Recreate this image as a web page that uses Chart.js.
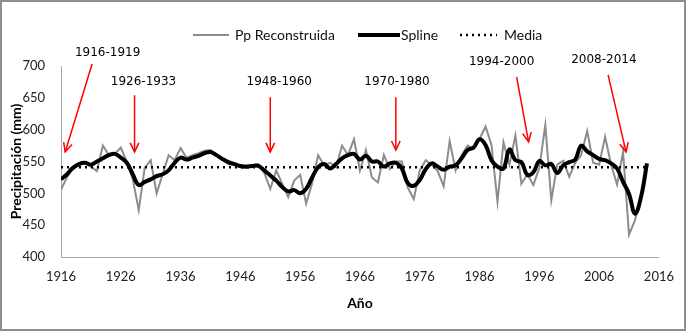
<!DOCTYPE html>
<html>
<head>
<meta charset="utf-8">
<script src="https://cdn.jsdelivr.net/npm/chart.js@4.4.1/dist/chart.umd.min.js"></script>
<style>html,body{margin:0;padding:0;background:#fff}canvas{display:block}</style>
</head>
<body>
<canvas id="c" width="686" height="331"></canvas>
<script>
// ---- Data ----
const years = [1916,1917,1918,1919,1920,1921,1922,1923,1924,1925,1926,1927,1928,1929,1930,1931,1932,1933,1934,1935,
1936,1937,1938,1939,1940,1941,1942,1943,1944,1945,1946,1947,1948,1949,1950,1951,1952,1953,1954,1955,
1956,1957,1958,1959,1960,1961,1962,1963,1964,1965,1966,1967,1968,1969,1970,1971,1972,1973,1974,1975,
1976,1977,1978,1979,1980,1981,1982,1983,1984,1985,1986,1987,1988,1989,1990,1991,1992,1993,1994,1995,
1996,1997,1998,1999,2000,2001,2002,2003,2004,2005,2006,2007,2008,2009,2010,2011,2012,2013,2014];

const ppReconstruida = [506,525,540,545,548,542,535,575,560,562,572,550,522,474,540,552,500,530,560,552,
571,556,560,563,567,568,560,552,546,544,541,540,544,546,532,507,536,515,494,520,
529,484,516,560,544,548,541,575,560,585,536,568,525,517,560,538,550,550,509,491,
536,552,545,535,511,582,536,560,575,570,585,605,576,487,580,545,591,515,530,513,
540,607,489,545,551,526,548,560,598,548,545,589,545,514,565,435,458,495,545];

const spline = [522,530,540,546,548,545,550,555,560,562,556,548,530,513,518,522,527,530,536,548,
556,553,556,559,563,565,560,554,549,546,543,542,543,543,536,528,520,510,503,505,
500,507,525,541,546,539,546,555,560,562,553,559,550,550,542,547,548,539,516,512,
521,538,547,542,537,542,544,555,568,572,585,576,552,542,539,569,552,549,529,533,
551,544,546,532,544,549,553,575,566,560,554,552,547,539,518,499,468,494,547];

const media = 541;

const xTickValues = [1916,1926,1936,1946,1956,1966,1976,1986,1996,2006,2016];
const yTickValues = [400,450,500,550,600,650,700];

// annotations (data space)
const annotLabels = ['1916-1919','1926-1933','1948-1960','1970-1980','1994-2000','2008-2014'];
const annotText   = [[1923.8,720],[1929.8,675],[1952.5,675],[1972.2,675],[1989.7,706],[2006.8,709]];
const annotFrom   = [[1921.2,703],[1928.3,654],[1951.0,651],[1972.0,651],[1992.2,683],[2007.5,686]];
const annotTo     = [[1916.7,565],[1928.3,565],[1951.0,565],[1972.0,568],[1994.2,581],[2010.5,565]];

// ---- Plugins ----
const frame = {
  id:'frame',
  afterDraw(chart){
    const c = chart.ctx;
    c.save();
    c.strokeStyle = '#8e8e8e';
    c.lineWidth = 2;
    c.strokeRect(1,1,chart.width-2,chart.height-2);
    c.restore();
  }
};

const legendItems = [
  {ds:0, x1:193, x2:229, tx:235},
  {ds:1, x1:358, x2:400, tx:401},
  {ds:2, x1:460, x2:497, tx:504}
];
const customLegend = {
  id:'customLegend',
  afterDraw(chart){
    const c = chart.ctx, y = 35;
    c.save();
    legendItems.forEach(it=>{
      const ds = chart.data.datasets[it.ds];
      c.beginPath();
      c.strokeStyle = ds.borderColor;
      c.lineWidth = ds.borderWidth;
      c.setLineDash(ds.borderDash || []);
      c.moveTo(it.x1,y); c.lineTo(it.x2,y); c.stroke();
      c.setLineDash([]);
      c.fillStyle = '#111';
      c.font = '14px Lato';
      c.textBaseline = 'middle';
      c.textAlign = 'left';
      c.fillText(ds.label, it.tx, y);
    });
    c.restore();
  }
};

const annotations = {
  id:'annotations',
  afterDatasetsDraw(chart){
    const c = chart.ctx, xs = chart.scales.x, ys = chart.scales.y;
    c.save();
    annotLabels.forEach((t,i)=>{
      const tx = xs.getPixelForValue(annotText[i][0]), ty = ys.getPixelForValue(annotText[i][1]);
      c.fillStyle = '#000';
      c.font = '12px "DejaVu Sans"';
      c.textAlign = 'center';
      c.textBaseline = 'middle';
      c.fillText(t, tx, ty);
      const x1 = xs.getPixelForValue(annotFrom[i][0]), y1 = ys.getPixelForValue(annotFrom[i][1]);
      const x2 = xs.getPixelForValue(annotTo[i][0]), y2 = ys.getPixelForValue(annotTo[i][1]);
      c.strokeStyle = '#ff0000';
      c.lineWidth = 1.5;
      c.beginPath(); c.moveTo(x1,y1); c.lineTo(x2,y2); c.stroke();
      const a = Math.atan2(y2-y1, x2-x1), L = 10, w = 0.45;
      c.beginPath();
      c.moveTo(x2 - L*Math.cos(a-w), y2 - L*Math.sin(a-w));
      c.lineTo(x2,y2);
      c.lineTo(x2 - L*Math.cos(a+w), y2 - L*Math.sin(a+w));
      c.stroke();
    });
    c.restore();
  }
};

// ---- Chart ----
new Chart(document.getElementById('c'), {
  type:'line',
  data:{
    datasets:[
      {label:'Pp Reconstruida', data: years.map((yr,i)=>({x:yr,y:ppReconstruida[i]})),
       borderColor:'#8c8c8c', borderWidth:2, pointRadius:0, tension:0, order:3},
      {label:'Spline', data: years.map((yr,i)=>({x:yr,y:spline[i]})),
       borderColor:'#000000', borderWidth:4, pointRadius:0, tension:0.4, order:1},
      {label:'Media', data: [{x:years[0],y:media},{x:years[years.length-1],y:media}],
       borderColor:'#000000', borderWidth:2.5, borderDash:[2,4], pointRadius:0, order:2}
    ]
  },
  options:{
    responsive:false, animation:false, devicePixelRatio:1,
    layout:{padding:{left:0,right:25,top:66,bottom:0}},
    plugins:{legend:{display:false}, tooltip:{enabled:false}},
    scales:{
      x:{
        type:'linear', min:1916, max:2016,
        afterBuildTicks(s){ s.ticks = xTickValues.map(v=>({value:v})); },
        afterFit(s){ s.height = 74; },
        ticks:{callback:v=>String(v), font:{family:'Lato',size:13}, color:'#222', padding:12, maxRotation:0, autoSkip:false},
        grid:{display:false, drawTicks:false},
        border:{display:true, color:'#a6a6a6', width:1},
        title:{display:true, text:'Año', font:{family:'Lato',size:14,weight:'bold'}, color:'#000', padding:{top:0,bottom:19}}
      },
      y:{
        min:400, max:700,
        afterBuildTicks(s){ s.ticks = yTickValues.map(v=>({value:v})); },
        afterFit(s){ s.width = 61; },
        ticks:{font:{family:'Lato',size:13}, color:'#222', padding:16},
        grid:{display:false, drawTicks:false},
        border:{display:true, color:'#a6a6a6', width:1},
        title:{display:true, text:'Precipitación (mm)', font:{family:'Lato',size:14,weight:'bold'}, color:'#000', padding:{top:8,bottom:0}}
      }
    }
  },
  plugins:[frame, customLegend, annotations]
});
</script>
</body>
</html>
